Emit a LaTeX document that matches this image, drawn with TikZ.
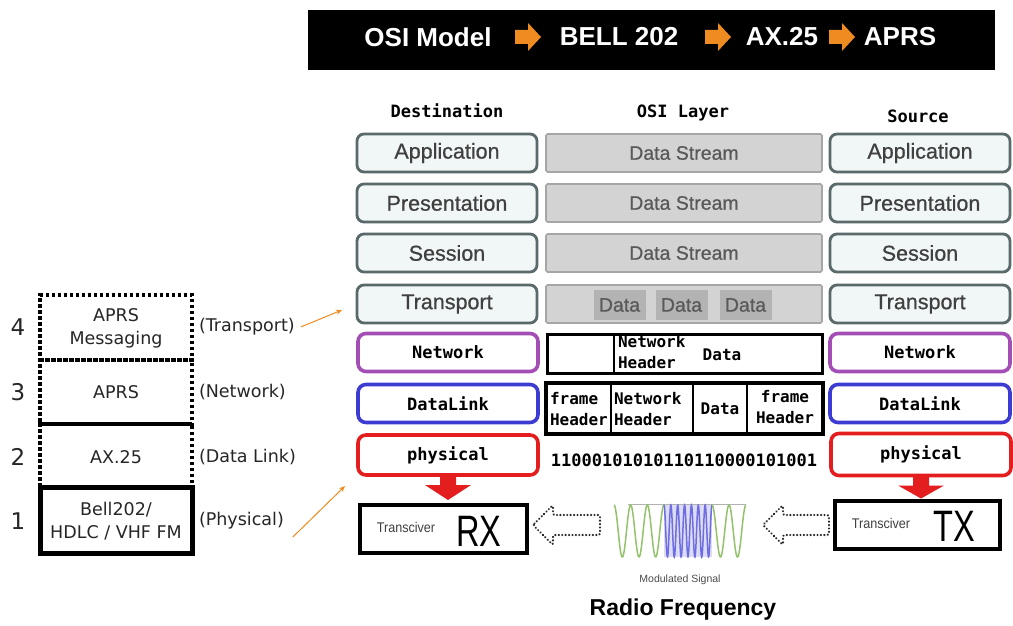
\documentclass[tikz,border=0pt]{standalone}
\usepackage{fontspec}
\setmainfont{Liberation Sans}
\newfontfamily\dejavu{DejaVu Sans}
\newfontfamily\monob{DejaVu Sans Mono}
\newfontfamily\layerfont{Liberation Sans}[FakeBold=0.7]
\usetikzlibrary{arrows.meta,calc}

\definecolor{orangeA}{HTML}{EE8C22}
\definecolor{slateB}{HTML}{5A6A6A}
\definecolor{boxF}{HTML}{F1F6F6}
\definecolor{grayF}{HTML}{D3D3D3}
\definecolor{grayD}{HTML}{A6A6A6}
\definecolor{tileF}{HTML}{B3B3B3}
\definecolor{purpleB}{HTML}{A24EB4}
\definecolor{blueB}{HTML}{3C3CD2}
\definecolor{redB}{HTML}{E41E1E}
\definecolor{waveG}{HTML}{94C26C}
\definecolor{waveB}{HTML}{6E6EE2}
\definecolor{waveBand}{HTML}{DCDCF6}

\begin{document}
\begin{tikzpicture}[x=1pt,y=-1pt,
  every node/.style={inner sep=0pt, outer sep=0pt},
  bannertxt/.style={text=white, font=\bfseries\fontsize{26}{30}\selectfont},
  colhead/.style={font=\monob\bfseries\fontsize{17}{20}\selectfont},
  osi/.style={draw=slateB, line width=2.8pt, rounded corners=7pt, fill=boxF,
    minimum width=180pt, minimum height=38pt, text=black!75,
    font=\layerfont\fontsize{21.5}{25}\selectfont},
  midrow/.style={draw=grayD, line width=1.6pt, rounded corners=1.5pt, fill=grayF,
    minimum width=276pt, minimum height=38pt, text=black!65,
    font=\layerfont\fontsize{19.5}{23}\selectfont},
  tile/.style={fill=tileF, minimum width=52pt, minimum height=30pt, text=black!65,
    font=\layerfont\fontsize{19.5}{23}\selectfont},
  lay/.style={line width=3.6pt, rounded corners=8pt, fill=white,
    minimum width=180pt, minimum height=38pt,
    font=\monob\bfseries\fontsize{17}{20}\selectfont},
  cellfont/.style={font=\monob\bfseries\fontsize{16}{21.5}\selectfont},
  stackdot/.style={draw, line width=4.4pt, dash pattern=on 3.5pt off 2.5pt,
    minimum width=152pt},
  stacktxt/.style={font=\dejavu\fontsize{17.5}{23}\selectfont, text=black!85},
  stacknum/.style={font=\dejavu\fontsize{23}{26}\selectfont, text=black!85},
  trx/.style={draw, line width=4pt, minimum height=48pt},
  trxsmall/.style={font=\fontsize{14}{16}\selectfont, text=black!75, xscale=0.9},
  trxbig/.style={font=\fontsize{44}{48}\selectfont, xscale=0.74},
  hint/.style={draw=orangeA, line width=1pt, -{Stealth[length=6pt,width=5pt]}},
  hollow/.style={draw=black!85, line width=2.4pt, dash pattern=on 0.01pt off 3.4pt,
    line cap=round, rounded corners=2pt}
]
\path[use as bounding box, fill=white] (0,0) rectangle (1013,626);

% ---- title banner ----
\node[fill=black, minimum width=687pt, minimum height=60pt] (banner) at (651.5,40) {};
\node[bannertxt] (tOSI) at (428,37) {OSI Model};
\node[bannertxt] (tBELL) at (619,37) {BELL 202};
\node[bannertxt] (tAX) at (782,37) {AX.25};
\node[bannertxt] (tAPRS) at (900,37) {APRS};
\foreach \ax in {528,718,842}{
  \fill[orangeA, shift={(\ax,37)}] (-13,-7) -- (0,-7) -- (0,-14) -- (13,0) -- (0,14) -- (0,7) -- (-13,7) -- cycle;
}

% ---- column headings ----
\node[colhead] (hDest) at (447,111) {Destination};
\node[colhead] (hOSI) at (683,113) {OSI Layer};
\node[colhead] (hSrc) at (918,116) {Source};

% ---- upper four layers ----
\foreach \nm/\txt/\yy in {App/Application/153, Pre/Presentation/203, Ses/Session/253, Tra/Transport/304}{
  \node[osi] (d\nm) at (447,\yy) {\txt};
  \node[osi] (s\nm) at (920,\yy) {\txt};
}
\foreach \nm/\yy in {A/153, P/203, S/253}{
  \node[midrow] (m\nm) at (684,\yy) {Data Stream};
}
\node[midrow] (mT) at (684,304) {};
\node[tile] (tile1) at (619.5,305) {Data};
\node[tile] (tile2) at (681.5,305) {Data};
\node[tile] (tile3) at (745.5,305) {Data};

% ---- lower three layers ----
\node[lay, draw=purpleB] (dNet) at (448,352.5) {Network};
\node[lay, draw=blueB]   (dDL)  at (448,403.5) {DataLink};
\node[lay, draw=redB, minimum height=40pt] (dPhy) at (448,455) {physical};
\node[lay, draw=purpleB] (sNet) at (920,352.5) {Network};
\node[lay, draw=blueB]   (sDL)  at (920,403.5) {DataLink};
\node[lay, draw=redB, minimum height=42pt] (sPhy) at (921,454.5) {physical};

% network packet
\node[draw, line width=3pt, minimum width=275pt, minimum height=39pt] (pkN) at (684.5,353.5) {};
\draw[line width=1.5pt] (614,334) -- (614,373);
\node[cellfont, align=left, anchor=north west] (pkNh) at (618,335) {Network\\Header};
\node[cellfont] (pkNd) at (722,355) {Data};

% data-link frame
\node[draw, line width=4pt, minimum width=277pt, minimum height=51pt] (pkD) at (684.5,408.5) {};
\foreach \xx in {611,693,747}{\draw[line width=2.5pt] (\xx,383) -- (\xx,434);}
\node[cellfont, align=left, anchor=west] (pkDf) at (550,409) {frame\\Header};
\node[cellfont, align=left, anchor=west] (pkDh) at (614,409) {Network\\Header};
\node[cellfont] (pkDd) at (720,409) {Data};
\node[cellfont, align=center] (pkDt) at (785,407) {frame\\Header};

% bit stream
\node[font=\monob\bfseries\fontsize{17}{20}\selectfont] (bits) at (684,460) {11000101010110110000101001};

% ---- transceivers ----
\node[trx, minimum width=167pt] (rx) at (443.5,529) {};
\node[trxsmall] (rxl) at (406,527) {Transciver};
\node[trxbig] (rxn) at (479,531) {RX};
\node[trx, minimum width=165pt] (tx) at (917.5,525) {};
\node[trxsmall] (txl) at (881,523) {Transciver};
\node[trxbig] (txn) at (954,526) {TX};

% red downward arrows from physical layer to transceivers
\fill[redB, shift={(dPhy.south)}] (-8,-1) -- (8,-1) -- (8,10) -- (23,10) -- (0,25) -- (-23,10) -- (-8,10) -- cycle;
\fill[redB, shift={(sPhy.south)}] (-8,-1) -- (8,-1) -- (8,10) -- (23,10) -- (0,23) -- (-23,10) -- (-8,10) -- cycle;

% hollow dotted arrows of the radio link
\draw[hollow, shift={(rx.east)}] (6,-4) -- (26,-24) -- (26,-14) -- (73,-14) -- (73,6) -- (26,6) -- (26,16) -- cycle;
\draw[hollow, shift={(tx.west)}] (-72,0) -- (-52,-20) -- (-52,-10) -- (-6,-10) -- (-6,10) -- (-52,10) -- (-52,20) -- cycle;

% modulated carrier
\fill[waveBand] (664,505) rectangle (712,557);
\draw[gray!60, line width=0.8pt] (628,504) -- (746,504);
\draw[waveG, line width=1.5pt] plot[domain=614:664, samples=160, smooth] (\x,{531-26*cos((\x-614)/50*3*360)});
\draw[waveB, line width=1.5pt] plot[domain=664:712, samples=220, smooth] (\x,{531-26*cos((\x-664)/48*7*360)});
\draw[waveG, line width=1.5pt] plot[domain=712:746, samples=120, smooth] (\x,{531-26*cos((\x-712)/34*2*360)});
\node[font=\fontsize{10.5}{12}\selectfont, text=black!70] (modsig) at (680,580) {Modulated Signal};
\node[font=\bfseries\fontsize{23}{27}\selectfont] (rf) at (683,610) {Radio Frequency};

% ---- APRS stack ----
\node[stackdot, minimum height=65pt] (st4) at (116,327.5) {};
\node[stackdot, minimum height=64pt] (st3) at (116,392) {};
\node[stackdot, minimum height=63pt] (st2) at (116,455.5) {};
\node[draw, line width=5pt, minimum width=152pt, minimum height=66pt] (st1) at (116,520) {};
\node[stacktxt, align=center] (st4t) at (116,328) {APRS\\Messaging};
\node[stacktxt] (st3t) at (116,392) {APRS};
\node[stacktxt] (st2t) at (116,457) {AX.25};
\node[stacktxt, align=center] (st1t) at (116,521) {Bell202/\\HDLC / VHF FM};
\node[stacknum] (n4) at (18,327) {4};
\node[stacknum] (n3) at (18,392) {3};
\node[stacknum] (n2) at (18,457) {2};
\node[stacknum] (n1) at (18,521) {1};
\node[stacktxt, anchor=west] (l4) at (199,327) {(Transport)};
\node[stacktxt, anchor=west] (l3) at (199,392) {(Network)};
\node[stacktxt, anchor=west] (l2) at (199,457) {(Data Link)};
\node[stacktxt, anchor=west] (l1) at (199,521) {(Physical)};

% pointers from the stack to the OSI layers
\coordinate (p4) at (342,310);
\coordinate (p1) at (345,486);
\draw[hint] ($(l4.east)+(6,0)$) -- (p4);
\draw[hint] ($(l1.east)+(9,16)$) -- (p1);
\end{tikzpicture}
\end{document}
